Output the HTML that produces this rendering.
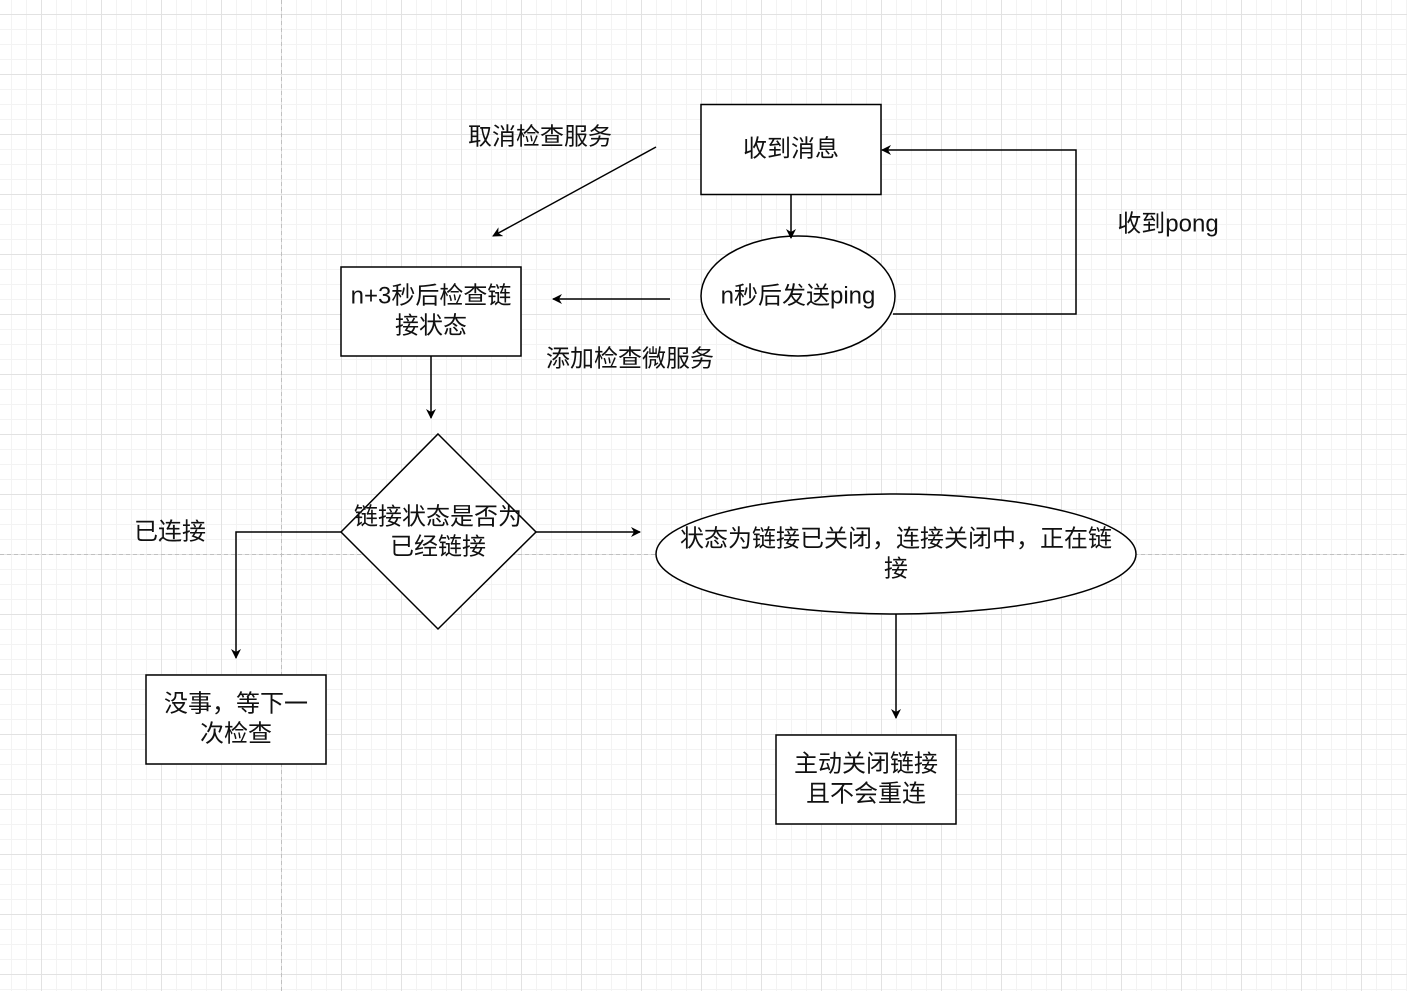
<!DOCTYPE html>
<html><head><meta charset="utf-8"><style>
html,body{margin:0;padding:0;background:#fff}
svg{display:block}
text{font-family:"Liberation Sans","Noto Sans CJK SC",sans-serif;font-size:24px;fill:#111}
</style></head><body>
<svg width="1407" height="991" viewBox="0 0 1407 991" xmlns="http://www.w3.org/2000/svg">
<defs>
<pattern id="minor" x="11" y="14" width="15" height="15" patternUnits="userSpaceOnUse">
<path d="M0 0.5H15M0.5 0V15" stroke="#f3f3f3" stroke-width="1" fill="none"/>
</pattern>
<pattern id="major" x="41" y="14" width="60" height="60" patternUnits="userSpaceOnUse">
<path d="M0 0.5H60M0.5 0V60" stroke="#e2e2e2" stroke-width="1" fill="none"/>
</pattern>
<marker id="ar" viewBox="0 0 10 10" refX="9" refY="5" markerWidth="10" markerHeight="10" markerUnits="userSpaceOnUse" orient="auto">
<path d="M0 0L10 5L0 10L3 5Z" fill="#000"/>
</marker>
</defs>
<rect width="1407" height="991" fill="#fff"/>
<rect width="1407" height="991" fill="url(#minor)"/>
<rect width="1407" height="991" fill="url(#major)"/>
<line x1="281.5" y1="0" x2="281.5" y2="991" stroke="#c0c0c0" stroke-dasharray="4,3"/>
<line x1="0" y1="554.5" x2="1407" y2="554.5" stroke="#c0c0c0" stroke-dasharray="4,3"/>

<g fill="#fff" stroke="#000" stroke-width="1.5">
<rect x="701" y="104.5" width="180" height="90"/>
<ellipse cx="798" cy="296" rx="97" ry="60"/>
<rect x="341" y="267" width="180" height="89"/>
<polygon points="438,434 536,532 438,629 341,532"/>
<rect x="146" y="675" width="180" height="89"/>
<ellipse cx="896" cy="554" rx="240" ry="60"/>
<rect x="776" y="735" width="180" height="89"/>
</g>

<g stroke="#000" stroke-width="1.5" fill="none" marker-end="url(#ar)">
<line x1="791" y1="194" x2="791" y2="238"/>
<polyline points="893,314 1076,314 1076,150 882,150"/>
<line x1="670" y1="299" x2="553" y2="299"/>
<line x1="656" y1="147" x2="493" y2="236"/>
<line x1="431" y1="356" x2="431" y2="418"/>
<polyline points="341,532 236,532 236,658"/>
<line x1="536" y1="532" x2="640" y2="532"/>
<line x1="896" y1="614" x2="896" y2="718"/>
</g>

<g text-anchor="middle" dominant-baseline="central">
<text x="791" y="149">收到消息</text>
<text x="798" y="296">n秒后发送ping</text>
<text x="1168" y="224">收到pong</text>
<text x="540" y="137">取消检查服务</text>
<text x="630" y="359">添加检查微服务</text>
<text x="431" y="296">n+3秒后检查链</text>
<text x="431" y="326">接状态</text>
<text x="438" y="517">链接状态是否为</text>
<text x="438" y="547">已经链接</text>
<text x="170" y="532">已连接</text>
<text x="236" y="704">没事，等下一</text>
<text x="236" y="734">次检查</text>
<text x="896" y="539">状态为链接已关闭，连接关闭中，正在链</text>
<text x="896" y="569">接</text>
<text x="866" y="764">主动关闭链接</text>
<text x="866" y="794">且不会重连</text>
</g>
</svg>
</body></html>
